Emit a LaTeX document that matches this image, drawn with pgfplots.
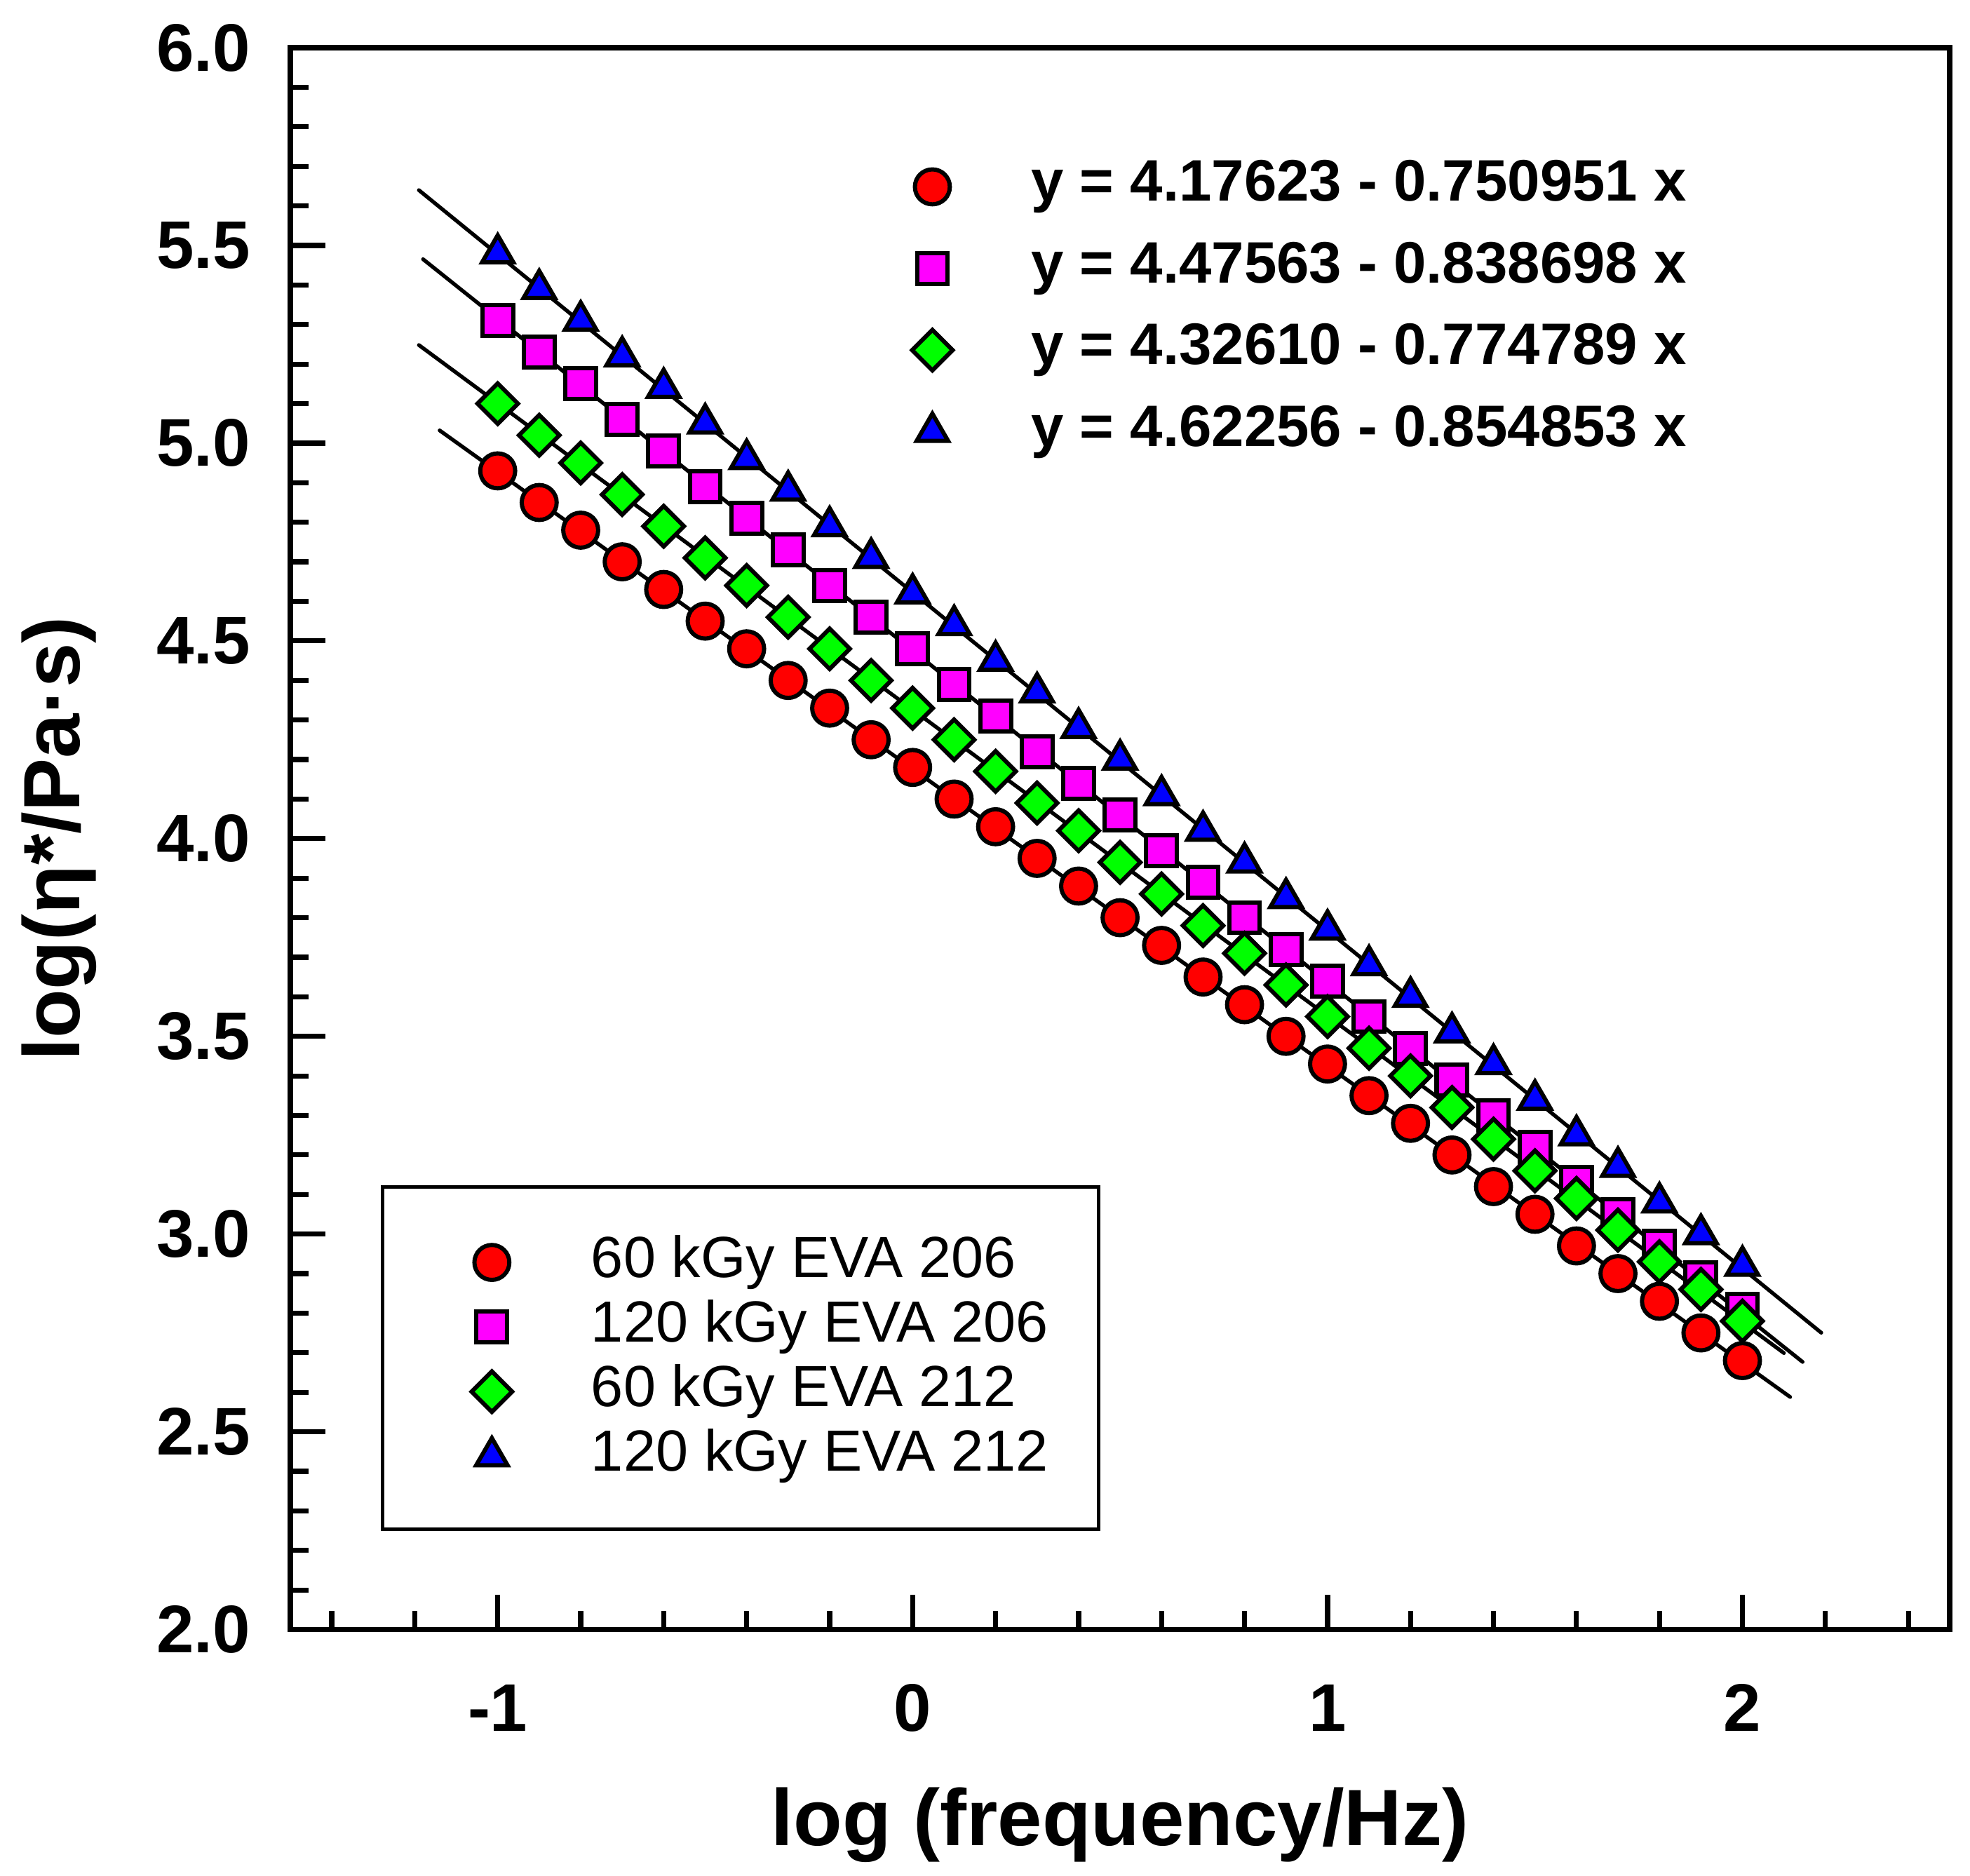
\documentclass[border=0pt]{standalone}
\usepackage{pgfplots}
\pgfplotsset{compat=1.18}
\usepackage{pgfplotstable}
\usepackage{fontspec}
\setmainfont{Liberation Sans}

\definecolor{cred}{RGB}{255,0,0}
\definecolor{cmag}{RGB}{255,0,255}
\definecolor{cgrn}{RGB}{0,255,0}
\definecolor{cblu}{RGB}{0,0,255}

\pgfplotstableread{
x    red  mag  green blue
-1.0 4.93 5.31 5.10 5.48
-0.9 4.85 5.23 5.02 5.39
-0.8 4.78 5.15 4.95 5.31
-0.7 4.70 5.06 4.87 5.22
-0.6 4.63 4.98 4.79 5.14
-0.5 4.55 4.89 4.71 5.05
-0.4 4.48 4.81 4.64 4.96
-0.3 4.40 4.73 4.56 4.88
-0.2 4.33 4.64 4.48 4.79
-0.1 4.25 4.56 4.40 4.71
0.0  4.18 4.48 4.33 4.62
0.1  4.10 4.39 4.25 4.54
0.2  4.03 4.31 4.17 4.45
0.3  3.95 4.22 4.09 4.37
0.4  3.88 4.14 4.02 4.28
0.5  3.80 4.06 3.94 4.20
0.6  3.73 3.97 3.86 4.11
0.7  3.65 3.89 3.78 4.02
0.8  3.58 3.80 3.71 3.94
0.9  3.50 3.72 3.63 3.85
1.0  3.43 3.64 3.55 3.77
1.1  3.35 3.55 3.47 3.68
1.2  3.28 3.47 3.40 3.60
1.3  3.20 3.39 3.32 3.51
1.4  3.12 3.30 3.24 3.43
1.5  3.05 3.22 3.16 3.34
1.6  2.97 3.13 3.09 3.25
1.7  2.90 3.05 3.01 3.17
1.8  2.83 2.97 2.93 3.08
1.9  2.75 2.89 2.86 3.00
2.0  2.68 2.81 2.78 2.92
}\datatable

\pgfplotsset{
  myimg/.style={legend image code/.code={\path[draw=none, fill=none] (-8pt,-6pt) rectangle (8pt,6pt); \draw[##1] plot coordinates {(0pt,0pt)};}},
  redmark/.style={only marks, mark=*, mark size=4.15pt, mark options={solid, fill=cred, draw=black, line width=1pt}, myimg},
  magmark/.style={only marks, mark=square*, mark size=3.65pt, mark options={solid, fill=cmag, draw=black, line width=1pt}, myimg},
  grnmark/.style={only marks, mark=square*, mark size=3.4pt, mark options={solid, fill=cgrn, draw=black, line width=1pt, rotate=45}, myimg},
  blumark/.style={only marks, mark=triangle*, mark size=4.3pt, mark options={solid, fill=cblu, draw=black, line width=1pt}, myimg},
  fitline/.style={black, line width=0.9pt, line cap=round, forget plot},
}

\begin{document}
\begin{tikzpicture}
\begin{axis}[
  name=main,
  scale only axis, width=394.4pt, height=375.9pt,
  xmin=-1.5, xmax=2.5, ymin=2, ymax=6,
  xtick={-1,0,1,2},
  minor xtick={-1.4,-1.2,-0.8,-0.6,-0.4,-0.2,0.2,0.4,0.6,0.8,1.2,1.4,1.6,1.8,2.2,2.4},
  ytick={2,2.5,3,3.5,4,4.5,5,5.5,6},
  minor y tick num=4,
  tick pos=left, tick align=inside,
  major tick length=8.3pt, minor tick length=4.4pt,
  every tick/.style={black, line width=1.2pt},
  axis line style={line width=1.3pt},
  /pgf/number format/assume math mode=true,
  ticklabel style={font=\fontsize{16}{19}\selectfont\bfseries},
  yticklabel style={/pgf/number format/fixed, /pgf/number format/fixed zerofill, /pgf/number format/precision=1},
  every x tick label/.append style={anchor=base, inner sep=0pt, yshift=-24.1pt},
  every y tick label/.append style={anchor=east, inner sep=0pt, xshift=-9.3pt},
  xlabel={log (frequency/Hz)},
  ylabel={log(η*/Pa·s)},
  label style={font=\fontsize{19}{23}\selectfont\bfseries},
  xlabel style={at={(axis description cs:0.5,-0.1367)}, anchor=base},
  ylabel style={at={(axis description cs:-0.127,0.5)}, anchor=base},
  legend cell align=left,
  legend style={at={(axis description cs:0.1007,0.2499)}, anchor=north west, draw=none, fill=none,
    inner sep=0pt, row sep=2.35pt, nodes={inner sep=0pt, text depth={}},
    /tikz/every odd column/.append style={column sep=15.6pt},
    font=\fontsize{13.8}{16}\selectfont},
]
\addplot[fitline] coordinates {(-1.14,5.03231) (2.115,2.58797)};
\addplot[fitline] coordinates {(-1.18,5.46529) (2.145,2.67662)};
\addplot[fitline] coordinates {(-1.19,5.24810) (2.10,2.69904)};
\addplot[fitline] coordinates {(-1.19,5.63984) (2.19,2.75043)};

\addplot[redmark] table[x=x, y=red] {\datatable};
\addlegendentry{\rule[-3pt]{0pt}{12.8pt}60 kGy EVA 206}
\addplot[magmark] table[x=x, y=mag] {\datatable};
\addlegendentry{\rule[-3pt]{0pt}{12.8pt}120 kGy EVA 206}
\addplot[grnmark] table[x=x, y=green] {\datatable};
\addlegendentry{\rule[-3pt]{0pt}{12.8pt}60 kGy EVA 212}
\addplot[blumark] table[x=x, y=blue] {\datatable};
\addlegendentry{\rule[-3pt]{0pt}{12.8pt}120 kGy EVA 212}

\draw[line width=0.85pt] (rel axis cs:0.0556,0.0636) rectangle (rel axis cs:0.4871,0.2799);
\end{axis}

\begin{axis}[
  scale only axis, width=394.4pt, height=375.9pt,
  hide axis, xmin=0, xmax=1, ymin=0, ymax=1,
  legend cell align=left,
  legend style={at={(axis description cs:0.3661,0.9296)}, anchor=north west, draw=none, fill=none,
    inner sep=0pt, row sep=6.6pt, nodes={inner sep=0pt, text depth={}},
    /tikz/every odd column/.append style={column sep=15.5pt},
    font=\fontsize{13.9}{16}\selectfont\bfseries},
]
\addlegendimage{redmark}
\addlegendentry{\rule[-3pt]{0pt}{12.8pt}y = 4.17623 - 0.750951 x}
\addlegendimage{magmark}
\addlegendentry{\rule[-3pt]{0pt}{12.8pt}y = 4.47563 - 0.838698 x}
\addlegendimage{grnmark}
\addlegendentry{\rule[-3pt]{0pt}{12.8pt}y = 4.32610 - 0.774789 x}
\addlegendimage{blumark}
\addlegendentry{\rule[-3pt]{0pt}{12.8pt}y = 4.62256 - 0.854853 x}
\end{axis}

\pgfresetboundingbox
\path[use as bounding box] ([xshift=-68.98pt,yshift=-58.58pt]main.south west) rectangle ([xshift=4.78pt,yshift=11.35pt]main.north east);
\end{tikzpicture}
\end{document}
